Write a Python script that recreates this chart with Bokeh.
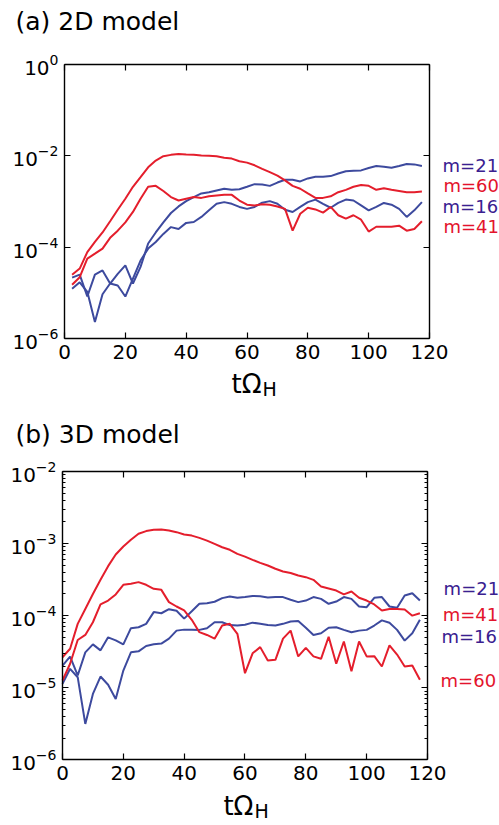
from bokeh.plotting import figure
from bokeh.models import LogAxis, LinearAxis, FixedTicker, Label, Range1d, CustomJSTickFormatter
from bokeh.layouts import column
from bokeh.embed import file_html
from bokeh.resources import INLINE

# ---------------- data ----------------
t_2d = [2.5, 5, 7.5, 10, 12.5, 15, 17.5, 20, 22.5, 25, 27.5, 30, 32.5, 35, 37.5, 40,
        42.5, 45, 47.5, 50, 52.5, 55, 57.5, 60, 62.5, 65, 67.5, 70, 72.5, 75, 77.5, 80,
        82.5, 85, 87.5, 90, 92.5, 95, 97.5, 100, 102.5, 105, 107.5, 110, 112.5, 115, 117.5]

m60_2d = [2.5e-5, 3.4e-5, 7.8e-5, 1.3e-4, 2.1e-4, 3.7e-4, 6.6e-4, 1.15e-3, 2.1e-3, 3.4e-3,
          5.6e-3, 7.9e-3, 9.8e-3, 1.05e-2, 1.1e-2, 1.07e-2, 1.05e-2, 1.02e-2, 1.0e-2, 9.8e-3,
          9.1e-3, 8.7e-3, 7.6e-3, 7.1e-3, 6.2e-3, 5.2e-3, 4.4e-3, 3.7e-3, 2.9e-3, 2.2e-3,
          1.9e-3, 1.5e-3, 1.2e-3, 1.2e-3, 1.3e-3, 1.6e-3, 1.8e-3, 2.1e-3, 2.3e-3, 2.2e-3,
          1.8e-3, 1.95e-3, 1.8e-3, 1.7e-3, 1.6e-3, 1.6e-3, 1.65e-3]

m41_2d = [1.5e-5, 2.2e-5, 5.6e-5, 7.2e-5, 9.3e-5, 1.6e-4, 2.3e-4, 3.5e-4, 5.9e-4, 1.15e-3,
          2.1e-3, 2.2e-3, 1.7e-3, 1.25e-3, 1.05e-3, 1.15e-3, 1.25e-3, 1.2e-3, 1.3e-3, 1.35e-3,
          1.4e-3, 1.4e-3, 1.05e-3, 8.5e-4, 8.2e-4, 8.7e-4, 8.5e-4, 7.8e-4, 6.9e-4, 2.3e-4,
          5.4e-4, 7.3e-4, 6.7e-4, 5.7e-4, 7.6e-4, 5.0e-4, 4.2e-4, 5.0e-4, 4.0e-4, 2.2e-4,
          2.8e-4, 2.8e-4, 2.8e-4, 2.95e-4, 2.3e-4, 2.5e-4, 3.7e-4]

m21_2d = [1.23e-5, 1.7e-5, 1.05e-5, 2.3e-6, 9.3e-6, 1.6e-5, 2.6e-5, 4.0e-5, 1.6e-5, 3.7e-5,
          1.2e-4, 2.1e-4, 3.5e-4, 5.6e-4, 7.8e-4, 1.02e-3, 1.25e-3, 1.5e-3, 1.6e-3, 1.75e-3,
          1.9e-3, 1.8e-3, 1.85e-3, 2.1e-3, 2.4e-3, 2.35e-3, 2.2e-3, 2.6e-3, 3.0e-3, 3.0e-3,
          2.75e-3, 3.2e-3, 3.5e-3, 3.5e-3, 3.6e-3, 4.1e-3, 4.6e-3, 4.7e-3, 4.8e-3, 5.4e-3,
          6.0e-3, 5.8e-3, 5.5e-3, 6.0e-3, 6.6e-3, 6.5e-3, 6.0e-3]

m16_2d = [2.15e-5, 2.5e-5, 8.3e-6, 2.5e-5, 3.1e-5, 1.6e-5, 1.45e-5, 8.3e-6, 2.05e-5, 5.1e-5,
          9.3e-5, 1.3e-4, 1.95e-4, 2.75e-4, 2.5e-4, 3.4e-4, 3.55e-4, 4.6e-4, 6.4e-4, 8.9e-4,
          9.7e-4, 8.9e-4, 7.6e-4, 6.9e-4, 7.6e-4, 9.4e-4, 1.02e-3, 8.9e-4, 6.6e-4, 5.9e-4,
          7.6e-4, 9.7e-4, 1.1e-3, 8.9e-4, 7.3e-4, 9.3e-4, 1.1e-3, 1.05e-3, 8.2e-4, 6.4e-4,
          7.6e-4, 9.3e-4, 8.5e-4, 6.9e-4, 4.6e-4, 6.4e-4, 9.7e-4]

t_3d = [0, 2.5, 5, 7.5, 10, 12.5, 15, 17.5, 20, 22.5, 25, 27.5, 30, 32.5, 35, 37.5, 40,
        42.5, 45, 47.5, 50, 52.5, 55, 57.5, 60, 62.5, 65, 67.5, 70, 72.5, 75, 77.5, 80,
        82.5, 85, 87.5, 90, 92.5, 95, 97.5, 100, 102.5, 105, 107.5, 110, 112.5, 115, 117.5]

m41_3d = [2.65e-5, 3.47e-5, 7.7e-5, 1.24e-4, 2.0e-4, 3.14e-4, 4.86e-4, 7.06e-4, 9.1e-4, 1.13e-3,
          1.37e-3, 1.49e-3, 1.55e-3, 1.57e-3, 1.52e-3, 1.44e-3, 1.34e-3, 1.29e-3, 1.2e-3, 1.1e-3,
          9.9e-4, 8.9e-4, 8.2e-4, 7.2e-4, 6.6e-4, 5.95e-4, 5.4e-4, 4.97e-4, 4.47e-4, 4.1e-4,
          3.9e-4, 3.6e-4, 3.42e-4, 3.14e-4, 2.54e-4, 2.38e-4, 2.23e-4, 1.97e-4, 2.16e-4, 1.77e-4,
          1.62e-4, 1.43e-4, 1.18e-4, 1.24e-4, 1.24e-4, 1.22e-4, 1.0e-4, 1.08e-4]

m60_3d = [1.26e-5, 2.15e-5, 4.6e-5, 5.4e-5, 8.1e-5, 1.43e-4, 1.62e-4, 1.97e-4, 2.68e-4, 2.77e-4,
          2.92e-4, 2.68e-4, 2.36e-4, 2.28e-4, 1.54e-4, 1.34e-4, 1.18e-4, 8.75e-5, 5.9e-5, 5.4e-5,
          4.8e-5, 7.3e-5, 7.7e-5, 5.6e-5, 1.59e-5, 3.0e-5, 3.66e-5, 2.39e-5, 2.44e-5, 4.8e-5,
          6.2e-5, 2.72e-5, 3.58e-5, 2.72e-5, 2.52e-5, 5.1e-5, 2.15e-5, 4.38e-5, 1.7e-5, 4.38e-5,
          2.72e-5, 2.74e-5, 1.97e-5, 3.86e-5, 2.89e-5, 1.97e-5, 2.04e-5, 1.29e-5]

m21_3d = [2.03e-5, 2.7e-5, 1.48e-5, 3.1e-5, 4.0e-5, 3.3e-5, 5.0e-5, 4.55e-5, 4.0e-5, 6.7e-5,
          6.9e-5, 7.7e-5, 1.12e-4, 1.08e-4, 1.23e-4, 1.17e-4, 9.1e-5, 1.15e-4, 1.46e-4, 1.49e-4,
          1.56e-4, 1.75e-4, 1.85e-4, 1.77e-4, 1.82e-4, 1.88e-4, 1.86e-4, 1.79e-4, 1.82e-4, 1.81e-4,
          1.66e-4, 1.54e-4, 1.62e-4, 1.81e-4, 1.71e-4, 1.46e-4, 1.57e-4, 1.81e-4, 1.71e-4, 1.34e-4,
          1.31e-4, 1.77e-4, 1.81e-4, 1.34e-4, 1.29e-4, 1.9e-4, 2.05e-4, 1.62e-4]

m16_3d = [1.13e-5, 1.83e-5, 1.4e-5, 3.15e-6, 8.2e-6, 1.43e-5, 1.1e-5, 7.0e-6, 1.73e-5, 3.1e-5,
          3.2e-5, 3.8e-5, 4.0e-5, 4.1e-5, 4.8e-5, 6.2e-5, 6.4e-5, 6.4e-5, 6.35e-5, 6.7e-5,
          8.1e-5, 8.1e-5, 7.4e-5, 7.3e-5, 7.5e-5, 8.0e-5, 7.7e-5, 7.4e-5, 7.3e-5, 7.7e-5,
          8.3e-5, 8.4e-5, 6.8e-5, 5.4e-5, 5.7e-5, 6.8e-5, 6.9e-5, 6.35e-5, 5.9e-5, 6.2e-5,
          6.35e-5, 7.3e-5, 8.6e-5, 7.96e-5, 6.35e-5, 4.5e-5, 5.7e-5, 8.75e-5]

x_ticks = [0, 20, 40, 60, 80, 100, 120]
x_lim = (0, 120)
y_lim_2d = (1e-6, 1)
y_lim_3d = (1e-6, 1e-2)
y_ticks_2d = [1e-6, 1e-4, 1e-2, 1]
y_ticks_3d = [1e-6, 1e-5, 1e-4, 1e-3, 1e-2]
y_minor_3d = [m * 10.0 ** e for e in range(-6, -2) for m in range(2, 10)]

RED = "#e41e2c"
BLUE = "#3d4a9e"
LBL_BLUE = "#3a2090"
LBL_RED = "#e3132c"
FONT = "DejaVu Sans"


def style_axis(ax, labels=True):
    ax.major_tick_in = 6
    ax.major_tick_out = 0
    ax.minor_tick_in = 3
    ax.minor_tick_out = 0
    ax.axis_line_width = 1.4
    ax.axis_line_color = "black"
    ax.major_tick_line_width = 1.2
    ax.minor_tick_line_width = 1
    ax.major_label_text_font = FONT
    ax.major_label_text_color = "black"
    ax.major_label_text_font_size = "20px"
    ax.major_label_standoff = 6
    if not labels:
        ax.formatter = CustomJSTickFormatter(code="return ''")


def make_panel(height, x_view, y_view, ylim, yticks, yminor):
    # the frame covers the whole figure; axes are pinned to the data box
    p = figure(width=499, height=height, x_range=Range1d(*x_view), y_range=Range1d(*y_view),
               y_axis_type="log", x_axis_location=None, y_axis_location=None,
               output_backend="svg", toolbar_location=None,
               min_border=0, min_border_top=0, min_border_bottom=0,
               min_border_left=0, min_border_right=0)
    p.xgrid.visible = False
    p.ygrid.visible = False
    p.outline_line_color = None
    p.background_fill_color = "white"
    p.border_fill_color = "white"

    bx = LinearAxis(ticker=FixedTicker(ticks=x_ticks, minor_ticks=[]),
                    fixed_location=ylim[0], bounds=x_lim)
    style_axis(bx)
    p.add_layout(bx, "below")
    tx = LinearAxis(ticker=FixedTicker(ticks=x_ticks, minor_ticks=[]),
                    fixed_location=ylim[1], bounds=x_lim)
    style_axis(tx, labels=False)
    p.add_layout(tx, "above")
    ly = LogAxis(ticker=FixedTicker(ticks=yticks, minor_ticks=yminor),
                 fixed_location=x_lim[0], bounds=ylim)
    style_axis(ly)
    p.add_layout(ly, "left")
    ry = LogAxis(ticker=FixedTicker(ticks=yticks, minor_ticks=yminor),
                 fixed_location=x_lim[1], bounds=ylim)
    style_axis(ry, labels=False)
    p.add_layout(ry, "right")
    return p


def lab(p, x, y, text, size, color="black"):
    p.add_layout(Label(x=x, y=y, text=text, text_font=FONT, text_font_size=size,
                       text_color=color, text_align="left", text_baseline="middle"))


# ---------------- panel (a) ----------------
p1 = make_panel(400, (-21.04, 143.01), (4.39e-8, 25.2), y_lim_2d, y_ticks_2d, [])
p1.line(t_2d, m21_2d, line_color=BLUE, line_width=2)
p1.line(t_2d, m16_2d, line_color=BLUE, line_width=2)
p1.line(t_2d, m60_2d, line_color=RED, line_width=2)
p1.line(t_2d, m41_2d, line_color=RED, line_width=2)

lab(p1, -16.1, 8.74, "(a) 2D model", "25px")
lab(p1, 124.3, 6.2e-3, "m=21", "18px", LBL_BLUE)
lab(p1, 124.6, 2.2e-3, "m=60", "18px", LBL_RED)
lab(p1, 124.3, 7.8e-4, "m=16", "18px", LBL_BLUE)
lab(p1, 124.6, 2.8e-4, "m=41", "18px", LBL_RED)
lab(p1, 54.9, 9.84e-8, "t\u03a9", "26px")
lab(p1, 65.1, 7.65e-8, "H", "19px")

# ---------------- panel (b) ----------------
p2 = make_panel(425, (-20.38, 143.67), (1.227e-7, 0.0966), y_lim_3d, y_ticks_3d, y_minor_3d)
p2.line(t_3d, m21_3d, line_color=BLUE, line_width=2)
p2.line(t_3d, m16_3d, line_color=BLUE, line_width=2)
p2.line(t_3d, m41_3d, line_color=RED, line_width=2)
p2.line(t_3d, m60_3d, line_color=RED, line_width=2)

lab(p2, -15.45, 0.0331, "(b) 3D model", "25px")
lab(p2, 125.3, 2.41e-4, "m=21", "18px", LBL_BLUE)
lab(p2, 125.0, 1.05e-4, "m=41", "18px", LBL_RED)
lab(p2, 124.6, 5.1e-5, "m=16", "18px", LBL_BLUE)
lab(p2, 124.3, 1.27e-5, "m=60", "18px", LBL_RED)
lab(p2, 52.9, 2.3e-7, "t\u03a9", "26px")
lab(p2, 63.1, 1.95e-7, "H", "19px")

layout = column(p1, p2, spacing=0)
open("out.html", "w").write(file_html(layout, INLINE))
